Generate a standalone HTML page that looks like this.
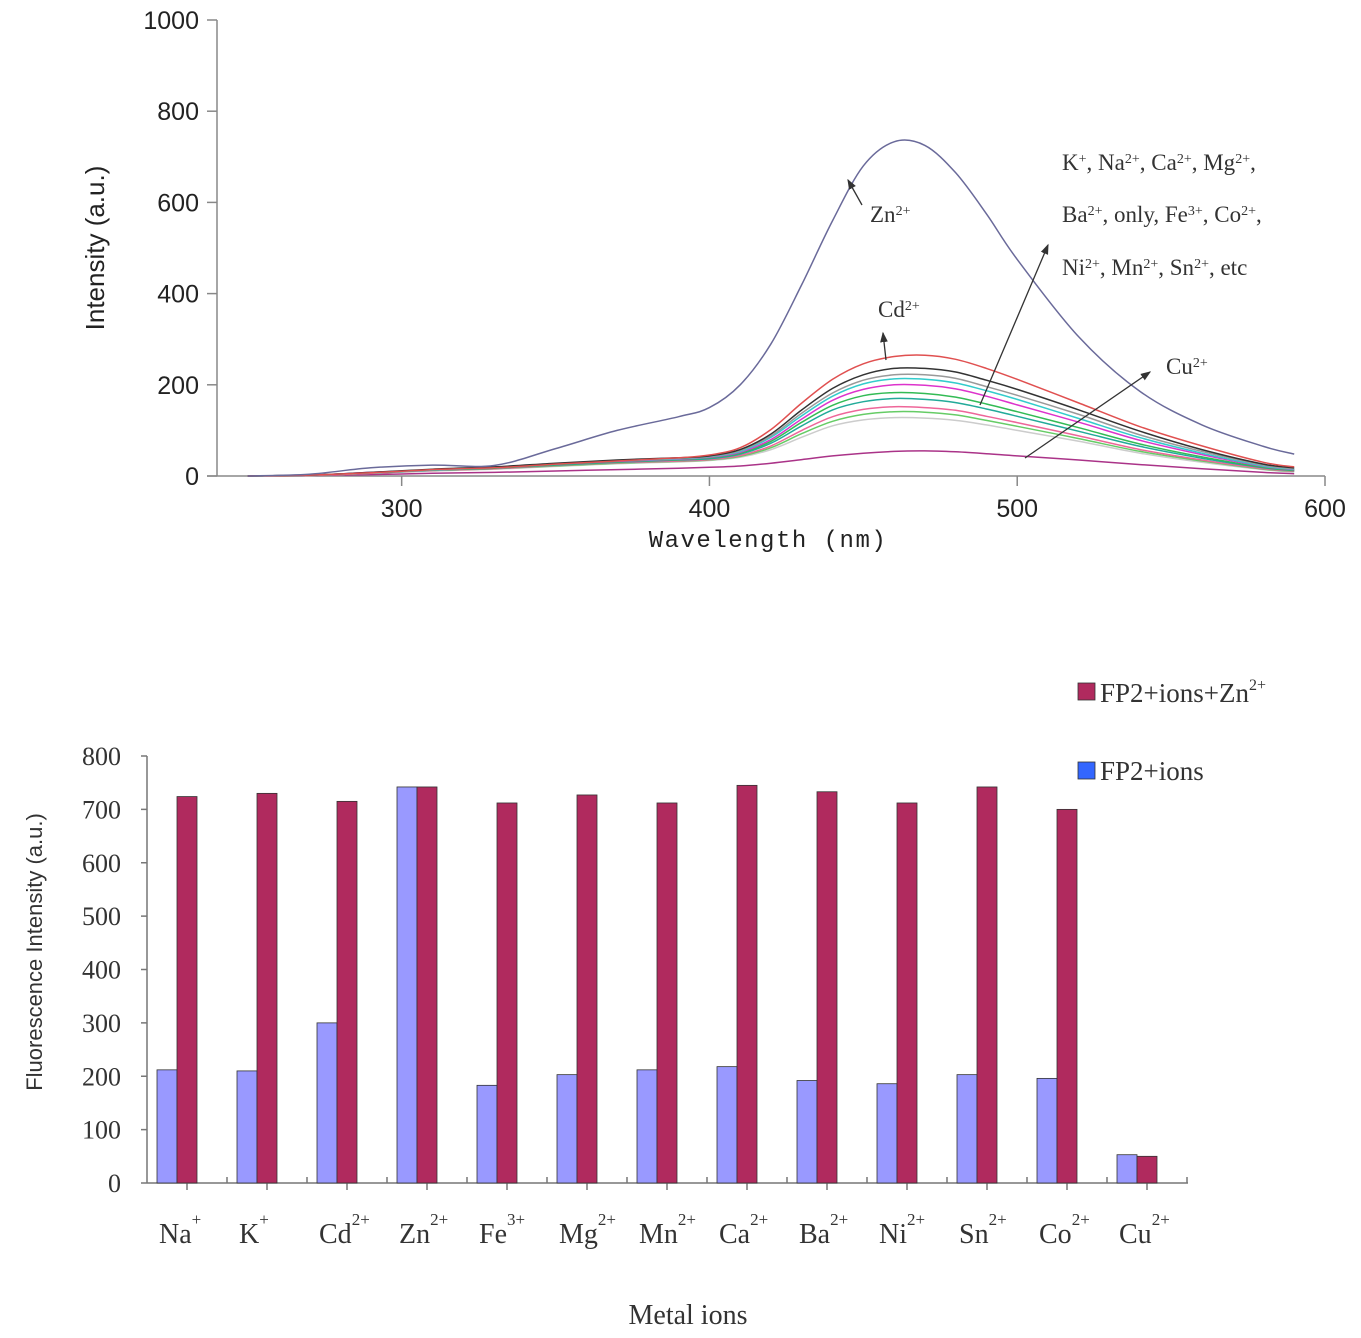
<!DOCTYPE html>
<html><head><meta charset="utf-8">
<style>
body{margin:0;background:#fff;width:1361px;height:1338px;overflow:hidden}
svg{display:block}
.sans{font-family:"Liberation Sans",sans-serif}
.serif{font-family:"Liberation Serif",serif}
.mono{font-family:"Liberation Mono",monospace}
</style></head><body>
<svg id="chart" width="1361" height="1338" xmlns="http://www.w3.org/2000/svg">
<defs><marker id="ah" markerWidth="8" markerHeight="8" refX="7" refY="4" orient="auto"><path d="M0,1 L8,4 L0,7 Z" fill="#333"/></marker></defs>
<g id="topchart"></g>
<g id="botchart"></g>
</svg>
<script>
// ---- Top chart data ----
const wavelengths=[250,270,290,310,330,350,370,390,400,410,420,430,440,450,460,470,480,490,500,520,540,560,580,590];
const znSeries=[0,4,18,24,23,60,100,130,150,200,290,420,560,680,733,725,665,575,475,305,185,112,65,48];
const cdSeries=[0,2,7,14,18,26,33,40,46,62,102,160,212,246,262,265,256,236,212,160,108,66,30,20];
const blackSeries=[0,2,8,15,20,28,35,40,44,58,92,145,192,222,236,236,228,210,190,145,98,58,26,18];
const graySeries=[0,2,7,14,19,27,34,39,43,56,88,138,182,210,222,222,214,196,177,135,90,54,24,16];
const cyanSeries=[0,2,7,13,18,26,33,38,42,54,85,132,175,202,213,212,204,187,168,126,84,50,22,15];
const magentaSeries=[0,2,8,14,18,26,32,37,41,52,80,125,166,190,200,199,191,175,156,118,78,47,21,14];
const greenSeries=[0,2,7,13,17,25,31,36,40,50,76,118,155,176,183,181,173,158,141,106,70,42,19,13];
const tealSeries=[0,2,7,13,17,24,30,35,38,48,72,110,145,163,170,168,161,147,131,98,65,39,18,12];
const pinkSeries=[0,1,6,12,16,23,29,33,36,45,66,100,130,146,152,150,144,131,117,88,58,35,16,11];
const green2Series=[0,1,6,12,16,22,28,32,35,43,62,93,120,135,141,140,134,122,109,82,54,33,15,10];
const lightSeries=[0,1,6,11,15,21,27,31,34,41,58,85,110,123,128,127,122,112,100,76,50,30,14,9];
const cuSeries=[0,1,3,6,8,11,14,17,19,22,28,36,44,50,54,55,53,49,44,35,25,16,8,5];
const seriesList=[znSeries,cdSeries,blackSeries,graySeries,cyanSeries,magentaSeries,greenSeries,tealSeries,pinkSeries,green2Series,lightSeries,cuSeries];
const seriesNames=['zn-curve','cd-curve','black-curve','gray-curve','cyan-curve','magenta-curve','green-curve','teal-curve','pink-curve','green2-curve','light-curve','cu-curve'];
const seriesColors=['#6a6a9a','#e05050','#333333','#999999','#33cccc','#dd33cc','#33bb55','#22aa99','#ee6699','#66cc66','#cccccc','#aa3388'];
const yTicksTop=[0,200,400,600,800,1000];
const xTicksTop=[300,400,500,600];
// ---- Bottom chart data ----
const ions=['Na','K','Cd','Zn','Fe','Mg','Mn','Ca','Ba','Ni','Sn','Co','Cu'];
const charges=['+','+','2+','2+','3+','2+','2+','2+','2+','2+','2+','2+','2+'];
const ionsOnly=[212,210,300,742,183,203,212,218,192,186,203,196,53];
const ionsZn=[724,730,715,742,712,727,712,745,733,712,742,700,50];
const yTicksBot=[0,100,200,300,400,500,600,700,800];

const NS='http://www.w3.org/2000/svg';
function mk(parent,tag,attrs,text){const el=document.createElementNS(NS,tag);for(const k in attrs)el.setAttribute(k,attrs[k]);if(text!==undefined)el.textContent=text;parent.appendChild(el);return el;}
function smooth(pts){let d='M'+pts[0][0].toFixed(1)+','+pts[0][1].toFixed(1);
 for(let i=0;i<pts.length-1;i++){const p0=pts[i-1]||pts[i],p1=pts[i],p2=pts[i+1],p3=pts[i+2]||p2;
  const c1x=p1[0]+(p2[0]-p0[0])/6,c1y=p1[1]+(p2[1]-p0[1])/6,c2x=p2[0]-(p3[0]-p1[0])/6,c2y=p2[1]-(p3[1]-p1[1])/6;
  d+=' C'+c1x.toFixed(1)+','+c1y.toFixed(1)+' '+c2x.toFixed(1)+','+c2y.toFixed(1)+' '+p2[0].toFixed(1)+','+p2[1].toFixed(1);}
 return d;}
const topG=document.getElementById('topchart');
const tx=v=>217+(v-240)*(1325-217)/(600-240);
const ty=v=>476-v*(476-20)/1000;
let e=mk(topG,'line',{x1:217,y1:20,x2:217,y2:476,stroke:'#888','stroke-width':1.5});


e=mk(topG,'line',{x1:207,y1:476,x2:1325,y2:476,stroke:'#888','stroke-width':1.5});


yTicksTop.forEach(v=>{
 mk(topG,'line',{x1:207,y1:ty(v),x2:217,y2:ty(v),stroke:'#888','stroke-width':1.5});
 e=mk(topG,'text',{x:199,y:ty(v)+9,'text-anchor':'end','font-size':25,class:'sans',fill:'#222'},v);
 
 
});
xTicksTop.forEach(v=>{
 mk(topG,'line',{x1:tx(v),y1:476,x2:tx(v),y2:486,stroke:'#888','stroke-width':1.5});
 e=mk(topG,'text',{x:tx(v),y:517,'text-anchor':'middle','font-size':25,class:'sans',fill:'#222'},v);
 
 
});
e=mk(topG,'text',{x:0,y:0,transform:'translate(104,248) rotate(-90)','text-anchor':'middle','font-size':26,class:'sans',fill:'#222'},'Intensity (a.u.)');


e=mk(topG,'text',{x:768,y:547,'text-anchor':'middle','font-size':24,'letter-spacing':'1.5',class:'mono',fill:'#222'},'Wavelength (nm)');


for(let i=seriesList.length-1;i>=0;i--){
 const s=seriesList[i];
 const pts=s.map((v,j)=>[tx(wavelengths[j]),ty(v)]);
 e=mk(topG,'path',{d:smooth(pts),fill:'none',stroke:seriesColors[i],'stroke-width':1.5});
 
 
}
function arrow(x1,y1,x2,y2,name){e=mk(topG,'line',{x1,y1,x2,y2,stroke:'#333','stroke-width':1.3,'marker-end':'url(#ah)'});
 
 }
arrow(862,205,848,180,'zn-arrow');
arrow(886,360,883,333,'cd-arrow');
arrow(980,405,1048,245,'others-arrow');
arrow(1025,458,1150,372,'cu-arrow');
function lab(x,y,html,name){const t=mk(topG,'text',{x,y,'font-size':23,class:'serif',fill:'#333'});t.innerHTML=html;
 
 }
const sup=s=>'<tspan baseline-shift="super" font-size="14">'+s+'</tspan>';
lab(870,222,'Zn'+sup('2+'),'zn-label');
lab(878,317,'Cd'+sup('2+'),'cd-label');
lab(1166,374,'Cu'+sup('2+'),'cu-label');
lab(1062,170,'K'+sup('+')+', Na'+sup('2+')+', Ca'+sup('2+')+', Mg'+sup('2+')+',','ions-label-1');
lab(1062,222,'Ba'+sup('2+')+', only, Fe'+sup('3+')+', Co'+sup('2+')+',','ions-label-2');
lab(1062,275,'Ni'+sup('2+')+', Mn'+sup('2+')+', Sn'+sup('2+')+', etc','ions-label-3');

const botG=document.getElementById('botchart');
const bx0=147,bw=80;
const by=v=>1183-v*(1183-756)/800;
e=mk(botG,'line',{x1:bx0,y1:756,x2:bx0,y2:1183,stroke:'#777','stroke-width':1.5});


e=mk(botG,'line',{x1:bx0,y1:1183,x2:bx0+bw*13+1,y2:1183,stroke:'#777','stroke-width':1.5});


yTicksBot.forEach(v=>{
 mk(botG,'line',{x1:bx0-6,y1:by(v),x2:bx0,y2:by(v),stroke:'#777','stroke-width':1.5});
 e=mk(botG,'text',{x:121,y:by(v)+9,'text-anchor':'end','font-size':26,class:'serif',fill:'#333'},v);
 
 
});
ions.forEach((ion,i)=>{
 const gx=bx0+i*bw;
 mk(botG,'line',{x1:gx+bw,y1:1177,x2:gx+bw,y2:1183,stroke:'#777','stroke-width':1.5});
 mk(botG,'line',{x1:gx+bw/2,y1:1183,x2:gx+bw/2,y2:1190,stroke:'#777','stroke-width':1.5});
 e=mk(botG,'rect',{x:gx+10,y:by(ionsOnly[i]),width:20,height:by(0)-by(ionsOnly[i]),fill:'#9999ff',stroke:'#333','stroke-width':0.8});
 
 
 e=mk(botG,'rect',{x:gx+30,y:by(ionsZn[i]),width:20,height:by(0)-by(ionsZn[i]),fill:'#b02a5e',stroke:'#333','stroke-width':0.8});
 
 
 const t=mk(botG,'text',{x:gx+12,y:1243,'font-size':28,class:'serif',fill:'#333'});
 t.innerHTML=ion+'<tspan dy="-18" font-size="17">'+charges[i]+'</tspan>';
 
 
});
e=mk(botG,'text',{x:0,y:0,transform:'translate(42,952) rotate(-90)','text-anchor':'middle','font-size':22,class:'sans',fill:'#333'},'Fluorescence Intensity (a.u.)');


e=mk(botG,'text',{x:688,y:1324,'text-anchor':'middle','font-size':28,class:'serif',fill:'#333'},'Metal ions');


e=mk(botG,'rect',{x:1078,y:683,width:17,height:17,fill:'#b02a5e',stroke:'#333','stroke-width':0.8});


let lt=mk(botG,'text',{x:1100,y:702,'font-size':27,class:'serif',fill:'#333'});
lt.innerHTML='FP2+ions+Zn<tspan dy="-12" font-size="16">2+</tspan>';


e=mk(botG,'rect',{x:1078,y:762,width:17,height:17,fill:'#3366ff',stroke:'#333','stroke-width':0.8});


lt=mk(botG,'text',{x:1100,y:780,'font-size':27,class:'serif',fill:'#333'},'FP2+ions');


</script>
</body></html>
